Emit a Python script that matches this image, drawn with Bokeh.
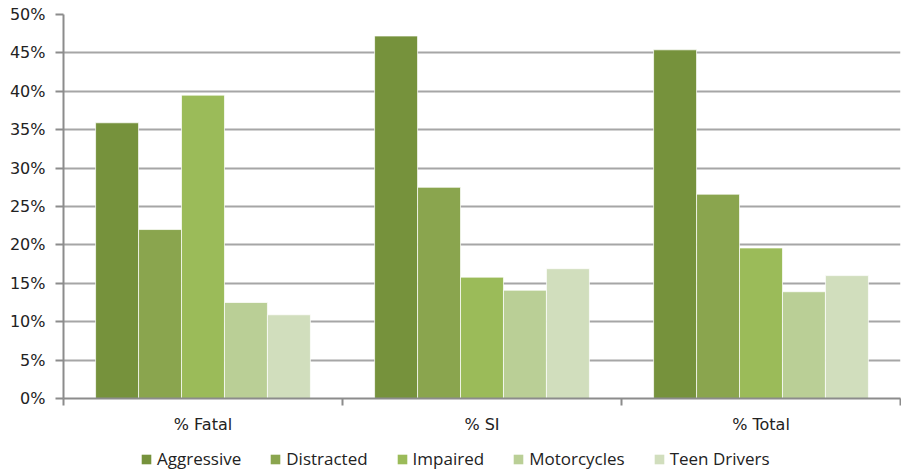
from bokeh.plotting import figure
from bokeh.layouts import column
from bokeh.models import (Range1d, FixedTicker, NumeralTickFormatter, Legend,
                          LegendItem, ColumnDataSource)
from bokeh.transform import dodge
from bokeh.embed import file_html
from bokeh.resources import INLINE

categories = ["% Fatal", "% SI", "% Total"]
series = ["Aggressive", "Distracted", "Impaired", "Motorcycles", "Teen Drivers"]
aggressive = [0.359, 0.472, 0.454]
distracted = [0.220, 0.275, 0.266]
impaired = [0.395, 0.158, 0.196]
motorcycles = [0.125, 0.141, 0.139]
teen_drivers = [0.109, 0.169, 0.160]
colors = ["#76923C", "#8AA54E", "#9BBB59", "#BACF96", "#D1DEBD"]
y_ticks = [0, 0.05, 0.10, 0.15, 0.20, 0.25, 0.30, 0.35, 0.40, 0.45, 0.50]

values = [aggressive, distracted, impaired, motorcycles, teen_drivers]
centers = [i + 0.5 for i in range(len(categories))]
data = {"xc": centers}
for name, vals in zip(series, values):
    data[name] = vals
src = ColumnDataSource(data)

W, H_MAIN, H_LEG = 901, 440, 30
p = figure(width=W, height=H_MAIN, output_backend="svg", toolbar_location=None,
           x_range=Range1d(0, len(categories)), y_range=Range1d(0, 0.5),
           min_border_left=63, min_border_right=1, min_border_top=14,
           min_border_bottom=42)
p.outline_line_color = None
p.background_fill_color = "white"
p.border_fill_color = "white"

bw = 0.77 / len(series)
for i, (name, col) in enumerate(zip(series, colors)):
    off = (i - (len(series) - 1) / 2) * bw
    p.vbar(x=dodge("xc", off, range=p.x_range), top=name, width=bw,
           source=src, fill_color=col, line_color="white", line_width=1,
           line_alpha=0.7)

# y axis
ya = p.yaxis[0]
ya.ticker = FixedTicker(ticks=y_ticks, minor_ticks=[])
ya.formatter = NumeralTickFormatter(format="0%")
ya.axis_line_color = "#8C8C8C"
ya.axis_line_width = 2
ya.major_tick_line_color = "#8C8C8C"
ya.major_tick_line_width = 2
ya.major_tick_out = 8
ya.major_tick_in = 0
ya.major_label_standoff = 10
ya.major_label_text_font = "DejaVu Sans"
ya.major_label_text_font_size = "16px"
ya.major_label_text_color = "#222222"

# x axis: boundary ticks as minor ticks, category labels at centers
xa = p.xaxis[0]
xa.ticker = FixedTicker(ticks=centers, minor_ticks=[float(i) for i in range(len(categories) + 1)])
xa.major_label_overrides = {c: cat for c, cat in zip(centers, categories)}
xa.axis_line_color = "#8C8C8C"
xa.axis_line_width = 2
xa.major_tick_line_color = None
xa.major_tick_out = 0
xa.major_tick_in = 0
xa.minor_tick_line_color = "#8C8C8C"
xa.minor_tick_line_width = 2
xa.minor_tick_out = 7
xa.minor_tick_in = 0
xa.major_label_standoff = 9
xa.major_label_text_font = "DejaVu Sans"
xa.major_label_text_font_size = "16px"
xa.major_label_text_color = "#222222"

p.xgrid.grid_line_color = None
p.ygrid.ticker = FixedTicker(ticks=y_ticks[1:])
p.ygrid.grid_line_color = "#A6A6A6"
p.ygrid.grid_line_width = 2

# legend strip (its swatches come from the same series, kept out of view)
pl = figure(width=W, height=H_LEG, output_backend="svg", toolbar_location=None,
            x_range=Range1d(0, len(categories)), y_range=Range1d(5, 6), min_border=0,
            x_axis_location=None, y_axis_location=None)
pl.outline_line_color = None
pl.xgrid.visible = False
pl.ygrid.visible = False
items = []
for name, col in zip(series, colors):
    r = pl.vbar(x="xc", top=name, width=bw, source=src, fill_color=col, line_color=None)
    items.append(LegendItem(label=name, renderers=[r]))
legend = Legend(items=items, orientation="horizontal", location=(77, 0),
                glyph_width=12, glyph_height=12, label_standoff=5, spacing=28,
                padding=0, margin=0, border_line_color=None,
                background_fill_alpha=0,
                label_text_font="Open Sans", label_text_font_size="17px",
                label_text_color="#222222", label_height=16)
pl.add_layout(legend, "center")

layout = column(p, pl, spacing=0)
open("out.html", "w").write(file_html(layout, INLINE))
